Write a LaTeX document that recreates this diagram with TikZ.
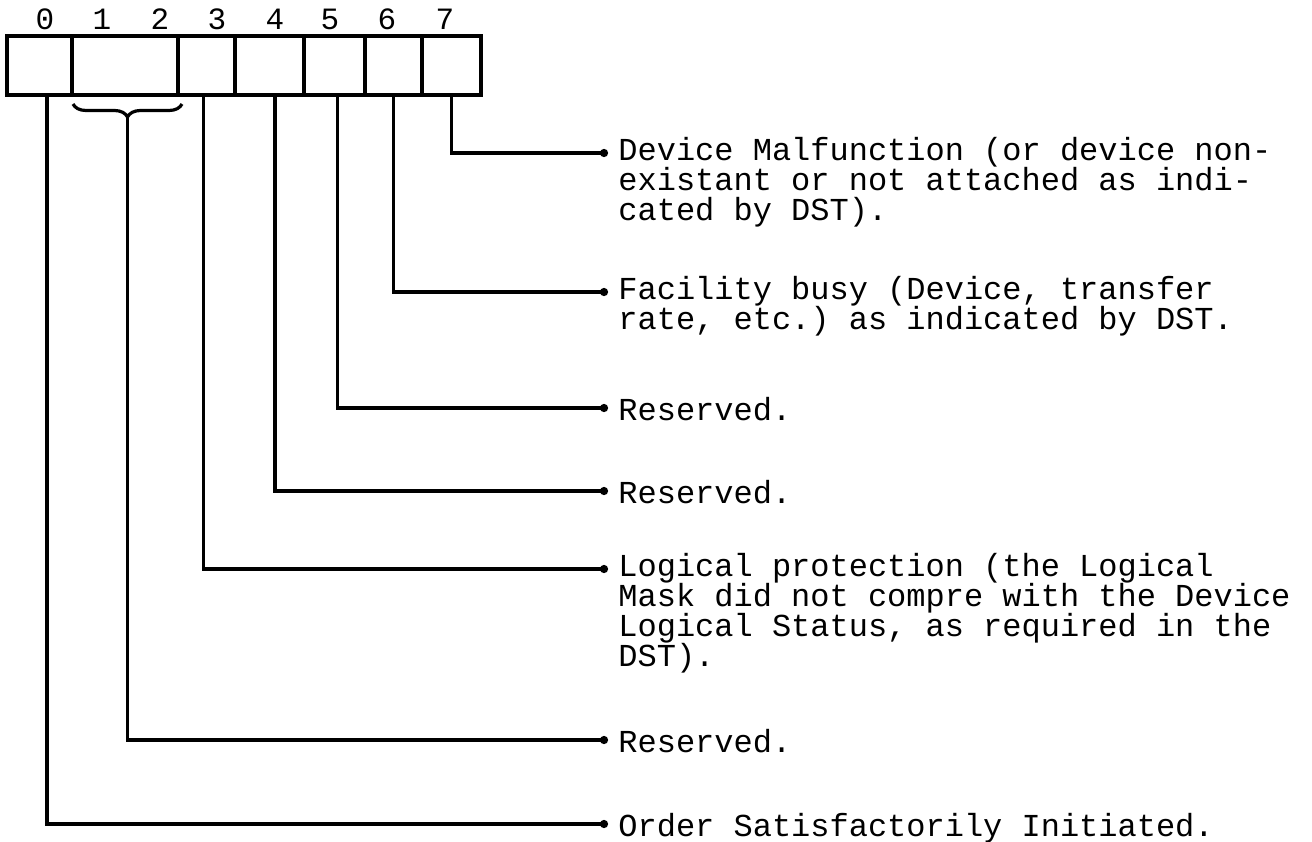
\documentclass[tikz,border=0pt]{standalone}
\usepackage{fontspec}
\setmonofont{Liberation Mono}
\usetikzlibrary{positioning,arrows.meta,decorations.pathreplacing}
\lineskiplimit=-20pt

\begin{document}
\begin{tikzpicture}[x=0.5pt, y=-0.5pt,
	cell/.style={draw, line width=1.8pt, minimum height=29.5pt, inner sep=0pt, outer sep=0pt},
	bitnum/.style={font=\ttfamily\fontsize{15.5}{16}\selectfont, inner sep=0pt},
	txt/.style={font=\ttfamily\fontsize{16}{15}\selectfont, align=left, inner sep=0pt, anchor=north west,
		execute at begin node={\rule{0pt}{14pt}}, xshift=5pt, yshift=8pt},
	lead/.style={line width=1.7pt, -{Circle[length=4pt, width=4pt]}}]
	\useasboundingbox (0,0) rectangle (1312,841);
	% the status byte
	\node[cell, minimum width=32.5pt, anchor=north west] (b0) at (7,36) {};
	\node[cell, minimum width=53pt, right=0pt of b0] (b12) {};
	\node[cell, minimum width=28.5pt, right=0pt of b12] (b3) {};
	\node[cell, minimum width=34.5pt, right=0pt of b3] (b4) {};
	\node[cell, minimum width=30.5pt, right=0pt of b4] (b5) {};
	\node[cell, minimum width=28.5pt, right=0pt of b5] (b6) {};
	\node[cell, minimum width=29.5pt, right=0pt of b6] (b7) {};
	\foreach \i/\x in {0/45,1/102,2/160,3/217,4/275,5/330,6/387,7/445}
		\node[bitnum] (n\i) at (\x,19) {\i};
	\draw[line width=1.6pt, decorate, decoration={brace, mirror, amplitude=6.5pt}] (73,104) -- (182,104);
	\coordinate (br) at (127.5,117);
	% ends of the leads
	\coordinate (e7) at (608,153);
	\coordinate (e6) at (608,292);
	\coordinate (e5) at (608,408);
	\coordinate (e4) at (608,491);
	\coordinate (e3) at (608,569);
	\coordinate (e12) at (608,740);
	\coordinate (e0) at (608,824);
	\node[txt] (t7) at (e7) {Device Malfunction (or device non-\\existant or not attached as indi-\\cated by DST).};
	\node[txt] (t6) at (e6) {Facility busy (Device, transfer\\rate, etc.) as indicated by DST.};
	\node[txt] (t5) at (e5) {Reserved.};
	\node[txt] (t4) at (e4) {Reserved.};
	\node[txt] (t3) at (e3) {Logical protection (the Logical\\Mask did not compre with the Device\\Logical Status, as required in the\\DST).};
	\node[txt] (t12) at (e12) {Reserved.};
	\node[txt] (t0) at (e0) {Order Satisfactorily Initiated.};
	\draw[lead] (b7.south) |- (e7);
	\draw[lead] (b6.south) |- (e6);
	\draw[lead] ([xshift=1.5pt]b5.south) |- (e5);
	\draw[lead] ([xshift=2.75pt]b4.south) |- (e4);
	\draw[lead] ([xshift=-1.5pt]b3.south) |- (e3);
	\draw[lead] (br) |- (e12);
	\draw[lead] ([xshift=3.75pt]b0.south) |- (e0);
\end{tikzpicture}
\end{document}
